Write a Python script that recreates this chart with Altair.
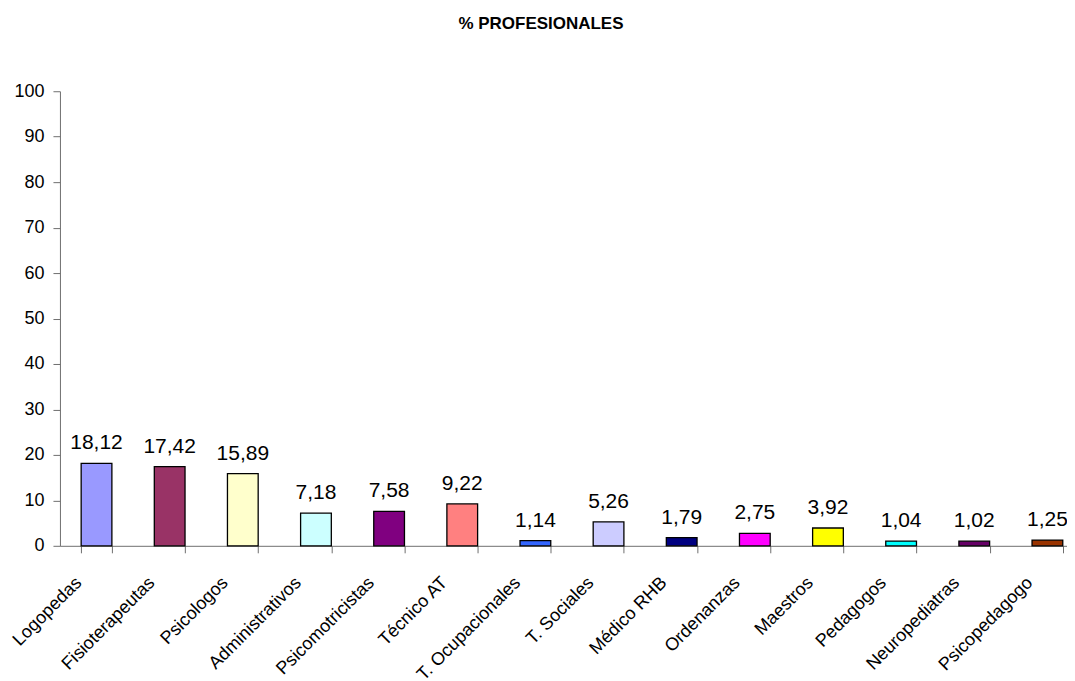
import altair as alt
import pandas as pd

categories = ["Logopedas", "Fisioterapeutas", "Psicologos", "Administrativos",
              "Psicomotricistas", "Técnico  AT", "T. Ocupacionales", "T. Sociales",
              "Médico RHB", "Ordenanzas", "Maestros", "Pedagogos",
              "Neuropediatras", "Psicopedagogo"]
values = [18.12, 17.42, 15.89, 7.18, 7.58, 9.22, 1.14, 5.26, 1.79, 2.75, 3.92, 1.04, 1.02, 1.25]
colors = ["#9999FF", "#993366", "#FFFFCC", "#CCFFFF", "#800080", "#FF8080", "#3366FF",
          "#CCCCFF", "#000080", "#FF00FF", "#FFFF00", "#00FFFF", "#660066", "#993300"]
y_ticks = [0, 10, 20, 30, 40, 50, 60, 70, 80, 90, 100]

df = pd.DataFrame({"cat": categories, "val": values, "col": colors})

FONT = "Liberation Sans"
AXIS_GRAY = "#6e6e6e"

x = alt.X("cat:N", sort=categories, title=None,
          scale=alt.Scale(paddingInner=0.58, paddingOuter=0.29, range=[0, 1025]),
          axis=alt.Axis(labelAngle=-45, labelFontSize=18, labelFont=FONT,
                        labelColor="black", tickBand="extent", tickSize=7,
                        tickColor=AXIS_GRAY, domainColor=AXIS_GRAY,
                        labelBaseline="middle", labelPadding=27, labelOffset=-18))
y = alt.Y("val:Q", title=None,
          scale=alt.Scale(domain=[0, 100], nice=False),
          axis=alt.Axis(values=y_ticks, labelFontSize=18, labelFont=FONT,
                        labelColor="black", tickSize=7, tickColor=AXIS_GRAY,
                        domainColor=AXIS_GRAY, grid=False, labelPadding=9))

bars = alt.Chart(df).mark_bar(stroke="black", strokeWidth=1.3).encode(
    x=x, y=y, color=alt.Color("col:N", scale=None))

text = alt.Chart(df).transform_calculate(
    lab="replace(format(datum.val, '.2f'), '.', ',')"
).mark_text(fontSize=21, font=FONT, dy=-14, baseline="alphabetic", color="black").encode(
    x=alt.X("cat:N", sort=categories), y="val:Q", text="lab:N")

chart = (bars + text).properties(
    width=1007, height=455,
    title=alt.TitleParams("% PROFESIONALES", fontSize=17, fontWeight="bold", font=FONT,
                          anchor="middle", offset=49, dx=-22, color="black"),
    autosize=alt.AutoSizeParams(type="none"),
    padding={"left": 52, "top": 83, "right": 1, "bottom": 134},
).configure_view(stroke=None)

chart.save("out.html", embed_options={"renderer": "svg", "actions": False})
